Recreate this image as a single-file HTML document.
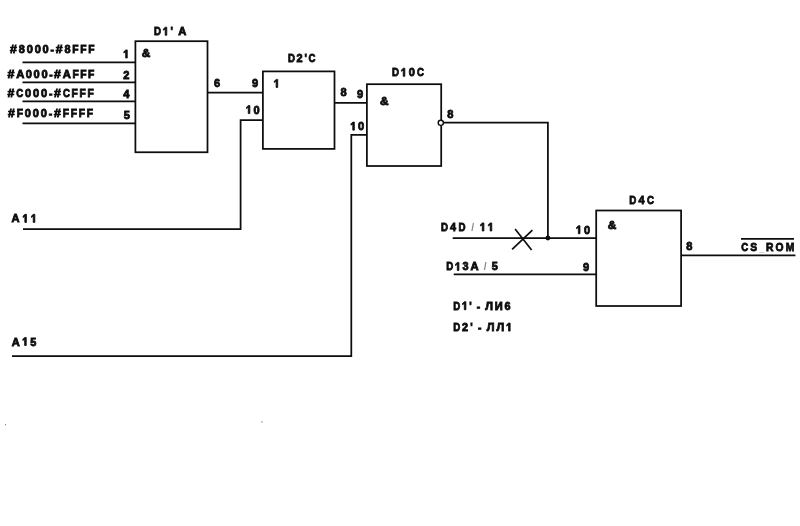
<!DOCTYPE html>
<html><head><meta charset="utf-8"><title>Address decoder schematic</title>
<style>
html,body{margin:0;padding:0;background:#fff;width:800px;height:526px;overflow:hidden}
svg{display:block;will-change:transform}
text{font-family:"Liberation Sans", sans-serif;font-weight:bold;font-size:11.7px;fill:#0d0d0d;stroke:#0d0d0d;stroke-width:0.85px;white-space:pre;word-spacing:-1.5px} text .h{fill-opacity:0;stroke-opacity:0} text .sl{fill:#8a8a8a;stroke:none} text .us{fill:#9a9a9a;stroke:none} .one{fill:#0d0d0d;stroke:#0d0d0d;stroke-width:0.85px}
</style></head><body>
<svg width="800" height="526" viewBox="0 0 800 526">
<rect x="0" y="0" width="800" height="526" fill="#fff"/>
<g fill="none" stroke="#0d0d0d" stroke-width="1.75" stroke-linecap="butt" stroke-linejoin="miter">
<rect x="135.4" y="41.2" width="72.1" height="111.05"/>
<rect x="262.9" y="71.4" width="71.6" height="77.5"/>
<rect x="366.9" y="84.2" width="74.3" height="81.8"/>
<rect x="596.2" y="210.5" width="84.9" height="95.5"/>
<path d="M22.5 62.3H135.4"/>
<path d="M22.5 82.4H135.4"/>
<path d="M22.5 101.4H135.4"/>
<path d="M22.5 123.25H135.4"/>
<path d="M207.5 92.5H263"/>
<path d="M23 229H240.6V120.2H262.9"/>
<path d="M334.5 102.75H366.9"/>
<path d="M12 356.2H351.3V134.85H366.9"/>
<path d="M443.6 122.6H547.9V238"/>
<path d="M452.7 238H596.2"/>
<path d="M453.7 274.25H596.2"/>
<path d="M681.1 255.4H795.4"/>
<path d="M741 238.8H794"/>
<path d="M515.1 229L531.6 250M532.4 230.1L512.1 249.3" stroke-width="1.7"/>
</g>
<circle cx="440.8" cy="122.8" r="2.6" fill="#fff" stroke="#0d0d0d" stroke-width="1.4"/>
<circle cx="547.9" cy="238" r="2.4" fill="#0d0d0d"/>
<rect x="261.2" y="421.2" width="1.4" height="1.4" fill="#9a9a9a"/>
<rect x="5" y="424" width="1" height="1.3" fill="#8a8a8a"/>
<g>
<text id="t0" transform="translate(10.0 53.38) scale(0.88 1)" letter-spacing="1.89"><tspan textLength="10.024" lengthAdjust="spacingAndGlyphs">#</tspan><tspan textLength="8.918" lengthAdjust="spacingAndGlyphs">8</tspan><tspan textLength="9.048" lengthAdjust="spacingAndGlyphs">0</tspan><tspan textLength="9.048" lengthAdjust="spacingAndGlyphs">0</tspan><tspan textLength="9.048" lengthAdjust="spacingAndGlyphs">0</tspan>-<tspan textLength="10.024" lengthAdjust="spacingAndGlyphs">#</tspan><tspan textLength="8.918" lengthAdjust="spacingAndGlyphs">8</tspan>FFF</text>
<text id="t1" transform="translate(7.5 78.0) scale(0.88 1)" letter-spacing="1.67"><tspan textLength="9.804" lengthAdjust="spacingAndGlyphs">#</tspan><tspan textLength="11.049" lengthAdjust="spacingAndGlyphs">A</tspan><tspan textLength="8.828" lengthAdjust="spacingAndGlyphs">0</tspan><tspan textLength="8.828" lengthAdjust="spacingAndGlyphs">0</tspan><tspan textLength="8.828" lengthAdjust="spacingAndGlyphs">0</tspan>-<tspan textLength="9.804" lengthAdjust="spacingAndGlyphs">#</tspan><tspan textLength="11.049" lengthAdjust="spacingAndGlyphs">A</tspan>FFF</text>
<text id="t2" transform="translate(7.5 97.45) scale(0.88 1)" letter-spacing="1.94"><tspan textLength="10.074" lengthAdjust="spacingAndGlyphs">#</tspan><tspan textLength="9.713" lengthAdjust="spacingAndGlyphs">C</tspan><tspan textLength="9.098" lengthAdjust="spacingAndGlyphs">0</tspan><tspan textLength="9.098" lengthAdjust="spacingAndGlyphs">0</tspan><tspan textLength="9.098" lengthAdjust="spacingAndGlyphs">0</tspan>-<tspan textLength="10.074" lengthAdjust="spacingAndGlyphs">#</tspan><tspan textLength="9.713" lengthAdjust="spacingAndGlyphs">C</tspan>FFF</text>
<text id="t3" transform="translate(8.0 116.75) scale(0.88 1)" letter-spacing="1.94"><tspan textLength="10.074" lengthAdjust="spacingAndGlyphs">#</tspan>F<tspan textLength="9.098" lengthAdjust="spacingAndGlyphs">0</tspan><tspan textLength="9.098" lengthAdjust="spacingAndGlyphs">0</tspan><tspan textLength="9.098" lengthAdjust="spacingAndGlyphs">0</tspan>-<tspan textLength="10.074" lengthAdjust="spacingAndGlyphs">#</tspan>FFFF</text>
<text id="t4" transform="translate(123.3 58.0) scale(0.88 1)" letter-spacing="0"><tspan class="h">1</tspan></text>
<text id="t5" transform="translate(123.3 78.95) scale(0.88 1)" letter-spacing="0"><tspan textLength="7.028" lengthAdjust="spacingAndGlyphs">2</tspan></text>
<text id="t6" transform="translate(123.3 98.28) scale(0.88 1)" letter-spacing="0"><tspan textLength="7.028" lengthAdjust="spacingAndGlyphs">4</tspan></text>
<text id="t7" transform="translate(123.8 118.7) scale(0.88 1)" letter-spacing="0"><tspan textLength="7.028" lengthAdjust="spacingAndGlyphs">5</tspan></text>
<text id="t8" transform="translate(141.8 56.7) scale(0.88 1)" letter-spacing="0"><tspan textLength="9.717" lengthAdjust="spacingAndGlyphs">&amp;</tspan></text>
<text id="t9" transform="translate(154.0 35.25) scale(0.88 1)" letter-spacing="2.17"><tspan textLength="10.028" lengthAdjust="spacingAndGlyphs">D</tspan><tspan class="h">1</tspan>&#x27; <tspan textLength="11.549" lengthAdjust="spacingAndGlyphs">A</tspan></text>
<text id="t10" transform="translate(214.0 87.25) scale(0.88 1)" letter-spacing="0"><tspan textLength="7.028" lengthAdjust="spacingAndGlyphs">6</tspan></text>
<text id="t11" transform="translate(251.9 87.25) scale(0.88 1)" letter-spacing="0"><tspan textLength="7.028" lengthAdjust="spacingAndGlyphs">9</tspan></text>
<text id="t12" transform="translate(273.75 87.45) scale(0.88 1)" letter-spacing="0"><tspan class="h">1</tspan></text>
<text id="t13" transform="translate(288.05 62.4) scale(0.88 1)" letter-spacing="1.89"><tspan textLength="9.748" lengthAdjust="spacingAndGlyphs">D</tspan><tspan textLength="8.918" lengthAdjust="spacingAndGlyphs">2</tspan>&#x27;<tspan textLength="9.663" lengthAdjust="spacingAndGlyphs">C</tspan></text>
<text id="t14" transform="translate(245.9 113.58) scale(0.88 1)" letter-spacing="2.02"><tspan class="h">1</tspan><tspan textLength="9.178" lengthAdjust="spacingAndGlyphs">0</tspan></text>
<text id="t15" transform="translate(340.6 95.67) scale(0.88 1)" letter-spacing="0"><tspan textLength="7.028" lengthAdjust="spacingAndGlyphs">8</tspan></text>
<text id="t16" transform="translate(356.9 98.0) scale(0.88 1)" letter-spacing="0"><tspan textLength="7.028" lengthAdjust="spacingAndGlyphs">9</tspan></text>
<text id="t17" transform="translate(391.9 76.3) scale(0.88 1)" letter-spacing="2.33"><tspan textLength="10.188" lengthAdjust="spacingAndGlyphs">D</tspan><tspan class="h">1</tspan><tspan textLength="9.488" lengthAdjust="spacingAndGlyphs">0</tspan><tspan textLength="10.103" lengthAdjust="spacingAndGlyphs">C</tspan></text>
<text id="t18" transform="translate(380.0 104.5) scale(0.88 1)" letter-spacing="0"><tspan textLength="9.717" lengthAdjust="spacingAndGlyphs">&amp;</tspan></text>
<text id="t19" transform="translate(350.4 130.15) scale(0.88 1)" letter-spacing="2.25"><tspan class="h">1</tspan><tspan textLength="9.408" lengthAdjust="spacingAndGlyphs">0</tspan></text>
<text id="t20" transform="translate(447.3 118.25) scale(0.88 1)" letter-spacing="0"><tspan textLength="7.028" lengthAdjust="spacingAndGlyphs">8</tspan></text>
<text id="t21" transform="translate(441.0 231.0) scale(0.88 1)" letter-spacing="2.45"><tspan textLength="10.308" lengthAdjust="spacingAndGlyphs">D</tspan><tspan textLength="9.478" lengthAdjust="spacingAndGlyphs">4</tspan><tspan textLength="10.308" lengthAdjust="spacingAndGlyphs">D</tspan> <tspan class="sl">/</tspan> <tspan class="h">1</tspan><tspan class="h">1</tspan></text>
<text id="t22" transform="translate(446.25 270.45) scale(0.88 1)" letter-spacing="2.01"><tspan textLength="9.868" lengthAdjust="spacingAndGlyphs">D</tspan><tspan class="h">1</tspan><tspan textLength="9.038" lengthAdjust="spacingAndGlyphs">3</tspan><tspan textLength="11.389" lengthAdjust="spacingAndGlyphs">A</tspan> <tspan class="sl">/</tspan> <tspan textLength="9.038" lengthAdjust="spacingAndGlyphs">5</tspan></text>
<text id="t23" transform="translate(576.0 233.75) scale(0.88 1)" letter-spacing="2.7"><tspan class="h">1</tspan><tspan textLength="9.858" lengthAdjust="spacingAndGlyphs">0</tspan></text>
<text id="t24" transform="translate(583.0 270.5) scale(0.88 1)" letter-spacing="0"><tspan textLength="7.028" lengthAdjust="spacingAndGlyphs">9</tspan></text>
<text id="t25" transform="translate(629.2 204.4) scale(0.88 1)" letter-spacing="2.64"><tspan textLength="10.498" lengthAdjust="spacingAndGlyphs">D</tspan><tspan textLength="9.668" lengthAdjust="spacingAndGlyphs">4</tspan><tspan textLength="10.413" lengthAdjust="spacingAndGlyphs">C</tspan></text>
<text id="t26" transform="translate(607.75 228.53) scale(0.88 1)" letter-spacing="0"><tspan textLength="9.717" lengthAdjust="spacingAndGlyphs">&amp;</tspan></text>
<text id="t27" transform="translate(686.25 249.75) scale(0.88 1)" letter-spacing="0"><tspan textLength="7.028" lengthAdjust="spacingAndGlyphs">8</tspan></text>
<text id="t28" transform="translate(741.2 250.75) scale(0.88 1)" letter-spacing="2.45"><tspan textLength="10.223" lengthAdjust="spacingAndGlyphs">C</tspan>S<tspan class="us" textLength="7.656" lengthAdjust="spacingAndGlyphs">_</tspan>ROM</text>
<text id="t29" transform="translate(453.3 309.75) scale(0.88 1)" letter-spacing="1.94"><tspan textLength="9.798" lengthAdjust="spacingAndGlyphs">D</tspan><tspan class="h">1</tspan>&#x27; - <tspan textLength="10.888" lengthAdjust="spacingAndGlyphs">Л</tspan><tspan textLength="11.19" lengthAdjust="spacingAndGlyphs">И</tspan><tspan textLength="8.968" lengthAdjust="spacingAndGlyphs">6</tspan></text>
<text id="t30" transform="translate(453.3 331.1) scale(0.88 1)" letter-spacing="2.14"><tspan textLength="9.998" lengthAdjust="spacingAndGlyphs">D</tspan><tspan textLength="9.168" lengthAdjust="spacingAndGlyphs">2</tspan>&#x27; - <tspan textLength="11.088" lengthAdjust="spacingAndGlyphs">Л</tspan><tspan textLength="11.088" lengthAdjust="spacingAndGlyphs">Л</tspan><tspan class="h">1</tspan></text>
<text id="t31" transform="translate(11.6 222.4) scale(0.88 1)" letter-spacing="3.0"><tspan textLength="12.379" lengthAdjust="spacingAndGlyphs">A</tspan><tspan class="h">1</tspan><tspan class="h">1</tspan></text>
<text id="t32" transform="translate(11.8 345.5) scale(0.88 1)" letter-spacing="2.52"><tspan textLength="11.899" lengthAdjust="spacingAndGlyphs">A</tspan><tspan class="h">1</tspan><tspan textLength="9.548" lengthAdjust="spacingAndGlyphs">5</tspan></text>
</g>
<g id="ones">
<path class="one" transform="translate(123.3 58.0) scale(0.88 1)" d="M2.69 0.0 L2.69 -6.23 L0.63 -4.97 L0.63 -6.34 L2.86 -8.05 L4.51 -8.05 L4.51 0.0Z"/>
<path class="one" transform="translate(154.0 35.25) scale(0.88 1)" d="M12.71 0.0 L12.71 -6.23 L10.66 -4.97 L10.66 -6.34 L12.88 -8.05 L14.54 -8.05 L14.54 0.0Z"/>
<path class="one" transform="translate(273.75 87.45) scale(0.88 1)" d="M2.69 0.0 L2.69 -6.23 L0.63 -4.97 L0.63 -6.34 L2.86 -8.05 L4.51 -8.05 L4.51 0.0Z"/>
<path class="one" transform="translate(245.9 113.58) scale(0.88 1)" d="M2.69 0.0 L2.69 -6.23 L0.63 -4.97 L0.63 -6.34 L2.86 -8.05 L4.51 -8.05 L4.51 0.0Z"/>
<path class="one" transform="translate(391.9 76.3) scale(0.88 1)" d="M12.87 0.0 L12.87 -6.23 L10.82 -4.97 L10.82 -6.34 L13.04 -8.05 L14.7 -8.05 L14.7 0.0Z"/>
<path class="one" transform="translate(350.4 130.15) scale(0.88 1)" d="M2.69 0.0 L2.69 -6.23 L0.63 -4.97 L0.63 -6.34 L2.86 -8.05 L4.51 -8.05 L4.51 0.0Z"/>
<path class="one" transform="translate(441.0 231.0) scale(0.88 1)" d="M46.91 0.0 L46.91 -6.23 L44.86 -4.97 L44.86 -6.34 L47.08 -8.05 L48.74 -8.05 L48.74 0.0ZM55.87 0.0 L55.87 -6.23 L53.81 -4.97 L53.81 -6.34 L56.04 -8.05 L57.7 -8.05 L57.7 0.0Z"/>
<path class="one" transform="translate(446.25 270.45) scale(0.88 1)" d="M12.55 0.0 L12.55 -6.23 L10.5 -4.97 L10.5 -6.34 L12.72 -8.05 L14.38 -8.05 L14.38 0.0Z"/>
<path class="one" transform="translate(576.0 233.75) scale(0.88 1)" d="M2.69 0.0 L2.69 -6.23 L0.63 -4.97 L0.63 -6.34 L2.86 -8.05 L4.51 -8.05 L4.51 0.0Z"/>
<path class="one" transform="translate(453.3 309.75) scale(0.88 1)" d="M12.48 0.0 L12.48 -6.23 L10.43 -4.97 L10.43 -6.34 L12.65 -8.05 L14.31 -8.05 L14.31 0.0Z"/>
<path class="one" transform="translate(453.3 331.1) scale(0.88 1)" d="M62.77 0.0 L62.77 -6.23 L60.72 -4.97 L60.72 -6.34 L62.94 -8.05 L64.6 -8.05 L64.6 0.0Z"/>
<path class="one" transform="translate(11.6 222.4) scale(0.88 1)" d="M15.06 0.0 L15.06 -6.23 L13.01 -4.97 L13.01 -6.34 L15.24 -8.05 L16.89 -8.05 L16.89 0.0ZM24.57 0.0 L24.57 -6.23 L22.51 -4.97 L22.51 -6.34 L24.74 -8.05 L26.4 -8.05 L26.4 0.0Z"/>
<path class="one" transform="translate(11.8 345.5) scale(0.88 1)" d="M14.58 0.0 L14.58 -6.23 L12.53 -4.97 L12.53 -6.34 L14.76 -8.05 L16.41 -8.05 L16.41 0.0Z"/>
</g>
</svg>
</body></html>
